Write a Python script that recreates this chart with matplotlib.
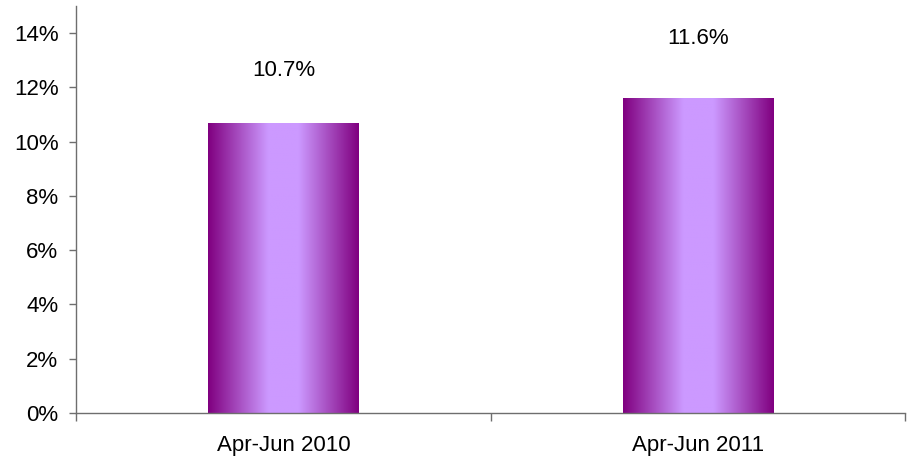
import matplotlib.pyplot as plt
import numpy as np
from matplotlib.colors import LinearSegmentedColormap
from matplotlib.ticker import PercentFormatter

plt.rcParams['font.family'] = ['Liberation Sans', 'DejaVu Sans']

# ---------- Data ----------
periods = ["Apr-Jun 2010", "Apr-Jun 2011"]
shares = [0.107, 0.116]
labelOffsets = [0.019, 0.022]

# purple -> lavender -> purple across each bar
barCmap = LinearSegmentedColormap.from_list("barShade", ["#800080", "#CC99FF"])

fig = plt.figure(figsize=(9.07, 4.57), dpi=100)
ax = fig.add_axes([0.0843, 0.0963, 0.914, 0.891])

x = np.arange(len(periods))
barWidth = 0.363
bars = ax.bar(x, shares, width=barWidth, color="none", edgecolor="none")

# horizontal shading profile: dark edges, light plateau in the middle
u = np.linspace(0, 1, 300)
profile = np.clip((0.5 - np.abs(u - 0.5)) / 0.4, 0, 1)
grad = np.tile(profile, (2, 1))

for rect in bars:
    x0, y0 = rect.get_x(), rect.get_y()
    w, h = rect.get_width(), rect.get_height()
    im = ax.imshow(grad, cmap=barCmap, vmin=0, vmax=1, aspect="auto",
                   extent=[x0, x0 + w, y0, y0 + h], interpolation="bilinear",
                   zorder=2)
    im.set_clip_path(rect)

for i, v in enumerate(shares):
    ax.text(x[i], v + labelOffsets[i], f"{v * 100:.1f}%", ha="center",
            va="center", fontsize=16)

ax.set_xlim(-0.5, len(periods) - 0.5)
ax.set_ylim(0, 0.15)
ax.set_yticks(np.arange(0, 0.141, 0.02))
ax.yaxis.set_major_formatter(PercentFormatter(1.0, decimals=0))

ax.set_xticks(x)
ax.set_xticklabels(periods)
ax.set_xticks(np.arange(-0.5, len(periods), 1.0), minor=True)
ax.tick_params(axis="x", which="major", length=0, pad=16, labelsize=16)
ax.tick_params(axis="x", which="minor", length=6, width=1, color="#6e6e6e")
ax.tick_params(axis="y", length=5, width=1, color="#6e6e6e", labelsize=16, pad=8)

for side in ["top", "right"]:
    ax.spines[side].set_visible(False)
for side in ["left", "bottom"]:
    ax.spines[side].set_color("#6e6e6e")
    ax.spines[side].set_linewidth(1)

fig.savefig("out.png", dpi=100)
